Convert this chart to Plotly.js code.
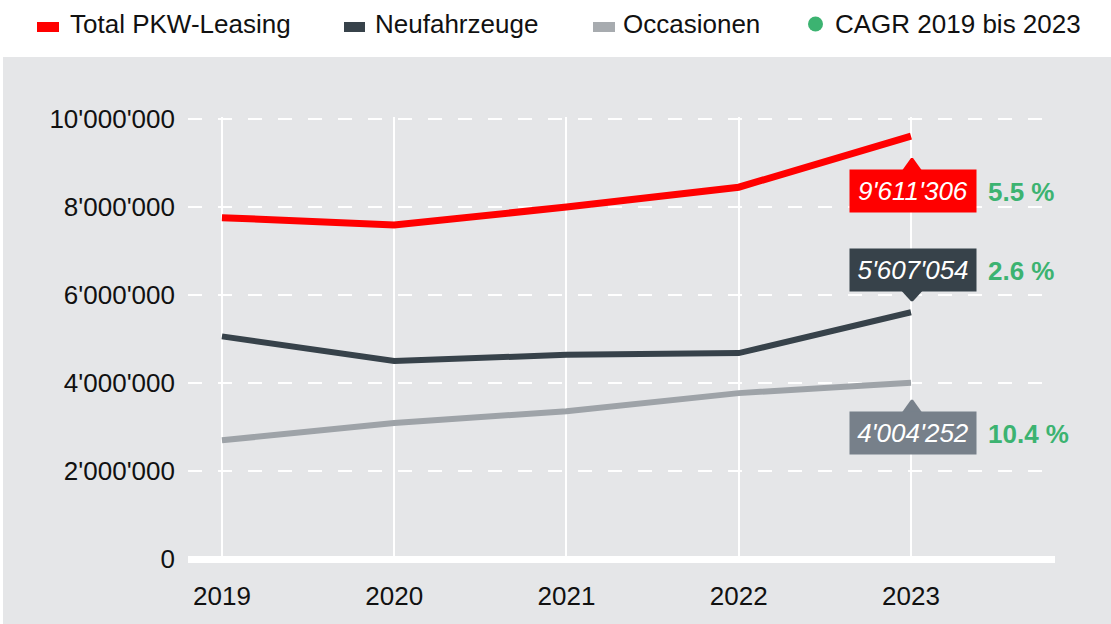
<!DOCTYPE html>
<html>
<head>
<meta charset="utf-8">
<script src="https://cdn.plot.ly/plotly-3.0.1.min.js"></script>
<style>html,body{margin:0;padding:0;background:#fff;}#chart{width:1111px;height:624px;}</style>
</head>
<body>
<div id="chart"></div>
<script>
var years = [2019, 2020, 2021, 2022, 2023];
var totalLeasing = [7758000, 7590000, 8000000, 8450000, 9611306];
var neufahrzeuge = [5060000, 4500000, 4640000, 4680000, 5607054];
var occasionen = [2698000, 3090000, 3360000, 3770000, 4004252];
var cagr = [5.5, 2.6, 10.4];
var seriesNames = ['Total PKW-Leasing', 'Neufahrzeuge', 'Occasionen'];
var cagrLabel = 'CAGR 2019 bis 2023';
var yTicks = [0, 2000000, 4000000, 6000000, 8000000, 10000000];

var colors = ['#ff0000', '#37424a', '#9ea3a8'];
var boxColors = ['#ff0000', '#37424a', '#77808a'];
var legendColors = ['#ff0000', '#37424a', '#a7abaf'];
var green = '#3cb371';
var FONT = '"Liberation Sans", Arial, sans-serif';

var W = 1111, H = 624;
var L = 188, R = 56, T = 117, B = 63;
var pw = W - L - R, ph = H - T - B;
function px(x) { return (x - L) / pw; }
function py(y) { return 1 - (y - T) / ph; }
function fmt(n) { return String(n).replace(/\B(?=(\d{3})+(?!\d))/g, "'"); }

var series = [totalLeasing, neufahrzeuge, occasionen];
var widths = [7, 6, 6];
var traces = series.map(function (s, i) {
  return {
    x: years, y: s, type: 'scatter', mode: 'lines', name: seriesNames[i],
    line: { color: colors[i], width: widths[i] }, showlegend: false, hoverinfo: 'skip', cliponaxis: false
  };
});

var last = years.length - 1;
var boxShift = [-55, 42, -50];
var annotations = [];
var shapes = [];

// gray panel
shapes.push({ type: 'rect', xref: 'paper', yref: 'paper', x0: px(3), x1: px(1111), y0: py(57), y1: py(624),
  fillcolor: '#e5e6e8', line: { width: 0 }, layer: 'below' });

series.forEach(function (s, i) {
  var v = s[last];
  annotations.push({
    x: years[last], y: v, xref: 'x', yref: 'y', showarrow: false,
    text: fmt(v), xanchor: 'center', yanchor: 'middle', xshift: 2, yshift: boxShift[i],
    bgcolor: boxColors[i], width: 122, height: 38, borderpad: 2,
    font: { family: FONT, size: 26, color: '#ffffff', style: 'italic' }
  });
  annotations.push({
    x: years[last], y: v, xref: 'x', yref: 'y', showarrow: false,
    text: cagr[i].toFixed(1) + ' %', xanchor: 'left', yanchor: 'middle', xshift: 75, yshift: boxShift[i] - 1,
    font: { family: FONT, size: 26, color: green, weight: 'bold' }
  });
  var path;
  if (boxShift[i] < 0) {
    var tip = (i === 0) ? -22 : -17;
    var base = -(i === 0 ? 36 : 31);
    path = 'M -10,' + base + ' L 0,' + tip + ' L 2,' + tip + ' L 12,' + base + ' Z';
  } else {
    path = 'M -10,22 L 0,11 L 2,11 L 12,22 Z';
  }
  shapes.push({ type: 'path', xref: 'x', yref: 'y', xsizemode: 'pixel', ysizemode: 'pixel',
    xanchor: years[last], yanchor: v, path: path, fillcolor: boxColors[i], line: { width: 0 }, layer: 'above' });
});

// legend
var legendItems = [
  { x0: 37, x1: 59, tx: 68 },
  { x0: 344, x1: 365, tx: 373 },
  { x0: 593, x1: 615, tx: 621 }
];
legendItems.forEach(function (it, i) {
  shapes.push({ type: 'rect', xref: 'paper', yref: 'paper', x0: px(it.x0), x1: px(it.x1), y0: py(32), y1: py(22),
    fillcolor: legendColors[i], line: { width: 0 } });
  annotations.push({ xref: 'paper', yref: 'paper', x: px(it.tx), y: py(24), xanchor: 'left', yanchor: 'middle',
    showarrow: false, text: seriesNames[i], font: { family: FONT, size: 26, color: '#111111' } });
});
shapes.push({ type: 'circle', xref: 'paper', yref: 'paper', x0: px(808), x1: px(823), y0: py(31.5), y1: py(16.5),
  fillcolor: green, line: { width: 0 } });
annotations.push({ xref: 'paper', yref: 'paper', x: px(833), y: py(24), xanchor: 'left', yanchor: 'middle',
  showarrow: false, text: cagrLabel, font: { family: FONT, size: 26, color: '#111111' } });

var layout = {
  width: W, height: H,
  margin: { l: L, r: R, t: T, b: B, pad: 0 },
  paper_bgcolor: '#ffffff', plot_bgcolor: '#e5e6e8',
  separators: ".'",
  showlegend: false, hovermode: false,
  font: { family: FONT, size: 26, color: '#111111' },
  xaxis: {
    range: [2018.803, 2023.836], tickvals: years, ticktext: years.map(String),
    showgrid: true, gridcolor: '#ffffff', gridwidth: 2, zeroline: false, showline: false,
    ticks: '', ticklabelstandoff: 17, tickfont: { family: FONT, size: 26, color: '#111111' }, fixedrange: true
  },
  yaxis: {
    range: [-45454, 10045454], tickvals: yTicks, tickformat: ',d',
    showgrid: true, gridcolor: '#ffffff', gridwidth: 2, griddash: '14px,16px',
    zeroline: true, zerolinecolor: '#ffffff', zerolinewidth: 7, showline: false,
    ticks: '', ticklabelstandoff: 12, tickfont: { family: FONT, size: 26, color: '#111111' }, fixedrange: true
  },
  shapes: shapes,
  annotations: annotations
};

Plotly.newPlot('chart', traces, layout, { displayModeBar: false, staticPlot: true });
</script>
</body>
</html>
